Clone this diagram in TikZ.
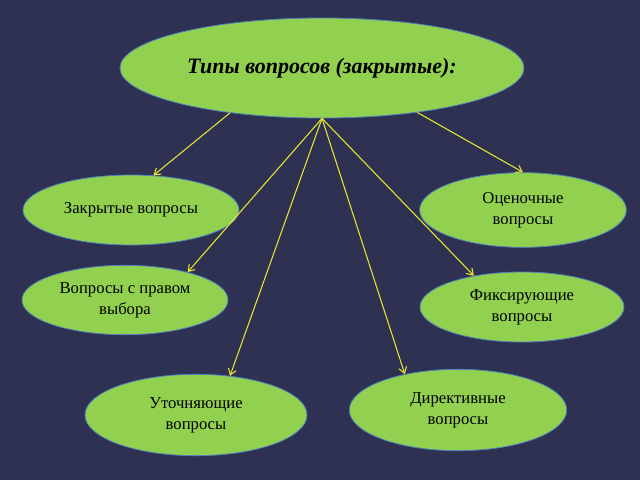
\documentclass[tikz,border=0pt]{standalone}
\usepackage{fontspec}
\setmainfont{Liberation Serif}
\usetikzlibrary{shapes.geometric,arrows.meta}
\definecolor{bgblue}{HTML}{2F3153}
\definecolor{leaf}{HTML}{92D050}
\definecolor{rim}{HTML}{4F81BD}
\definecolor{wire}{HTML}{E6E62E}
\begin{document}
\begin{tikzpicture}[x=0.75pt,y=-0.75pt,
    oval/.style={ellipse,draw=rim,line width=0.6pt,fill=leaf,inner sep=0pt,align=center,font=\fontsize{12.5}{15.5}\selectfont},
    link/.style={-{Straight Barb[length=4.5pt,width=6pt]},draw=wire,line width=0.8pt}]
    \fill[bgblue] (0,0) rectangle (640,480);
    \node[oval,minimum width=303pt,minimum height=75pt,font=\fontsize{16.5}{20}\selectfont\bfseries\itshape] (types) at (322,68) {Типы вопросов (закрытые):};
    \node[oval,minimum width=162pt,minimum height=52.5pt] (closed) at (131,210) {Закрытые вопросы};
    \node[oval,minimum width=155pt,minimum height=56pt] (rating) at (523,210) {Оценочные\\вопросы};
    \node[oval,minimum width=154.5pt,minimum height=52pt] (choice) at (125,300) {Вопросы с правом\\выбора};
    \node[oval,minimum width=153pt,minimum height=52.5pt] (fixing) at (522,307) {Фиксирующие\\вопросы};
    \node[oval,minimum width=166.5pt,minimum height=61pt] (clarify) at (196,415) {Уточняющие\\вопросы};
    \node[oval,minimum width=163pt,minimum height=61pt] (direct) at (458,410) {Директивные\\вопросы};
    \draw[link] (types.206) -- (closed.57);
    \draw[link] (types.335) -- (rating.north);
    \draw[link] (types.south) -- (choice.24);
    \draw[link] (types.south) -- (clarify.49);
    \draw[link] (types.south) -- (direct.146);
    \draw[link] (types.south) -- (fixing.147);
\end{tikzpicture}
\end{document}
